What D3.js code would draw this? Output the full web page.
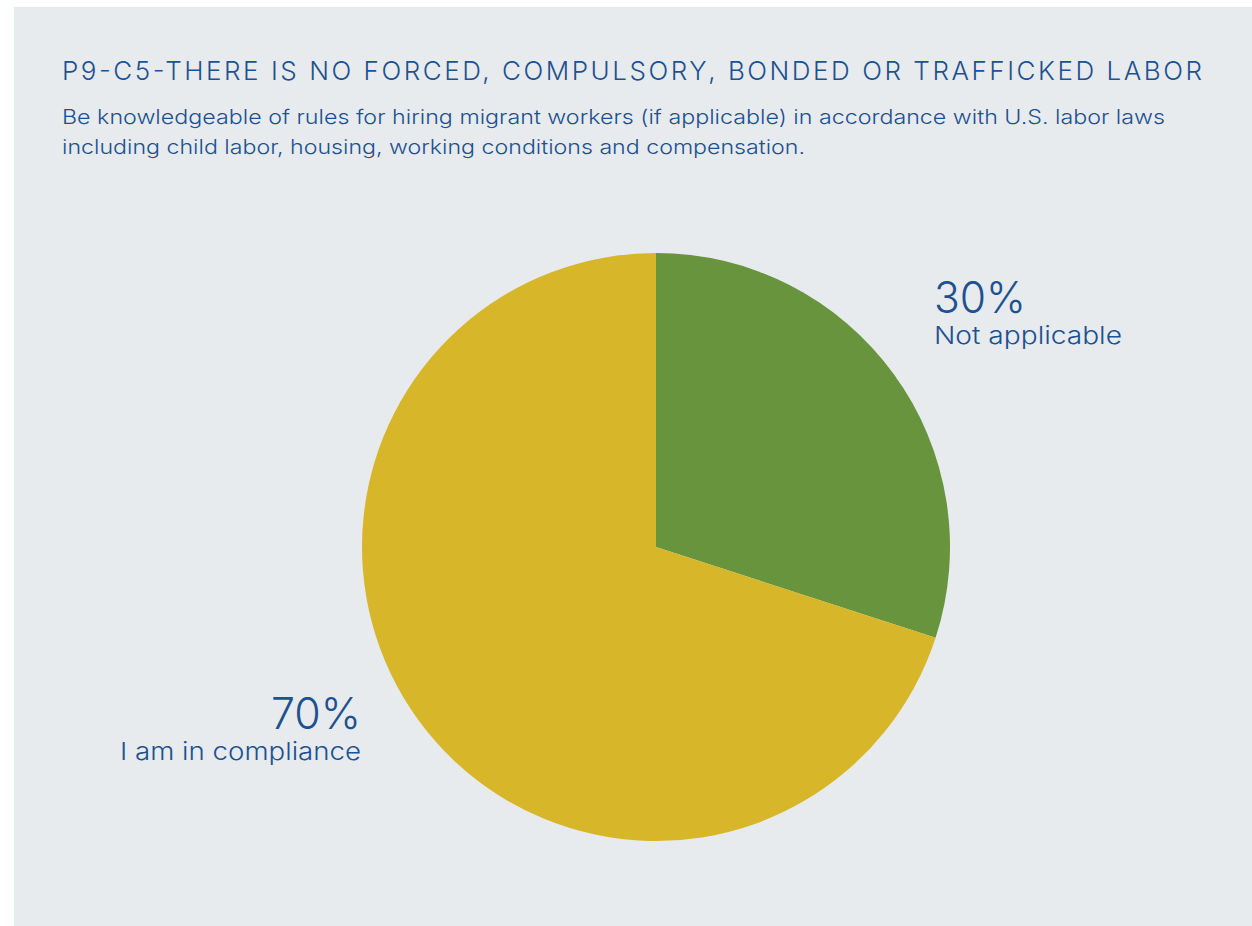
<!DOCTYPE html>
<html><head><meta charset="utf-8">
<script src="https://cdn.jsdelivr.net/npm/d3@7"></script>
<style>html,body{margin:0;padding:0;background:#fff;}</style>
</head><body>
<script>
const categories = ["Not applicable", "I am in compliance"];
const values = [30, 70];
const valueLabels = ["30%", "70%"];
const colors = ["#67943c", "#d8b62a"];
const title = "P9-C5-THERE IS NO FORCED, COMPULSORY, BONDED OR TRAFFICKED LABOR";
const subtitleLines = ["Be knowledgeable of rules for hiring migrant workers (if applicable) in accordance with U.S. labor laws",
  "including child labor, housing, working conditions and compensation."];

const W = 1252, H = 926, textColor = "#1d5190", font = "Inter, Lato, sans-serif";
const svg = d3.select("body").append("svg").attr("width", W).attr("height", H);
svg.append("rect").attr("x", 14).attr("y", 7).attr("width", W - 14).attr("height", H - 7).attr("fill", "#e7ebee");

svg.append("text").attr("x", 62).attr("y", 80).attr("fill", textColor)
  .style("font-family", font).style("font-size", "26px").style("font-weight", 300)
  .attr("textLength", 1140).attr("lengthAdjust", "spacing").text(title);
const subW = [1103, 743];
subtitleLines.forEach((l, i) => svg.append("text").attr("x", 62).attr("y", 124 + i * 30)
  .attr("fill", textColor).style("font-family", font).style("font-size", "20px").style("font-weight", 300)
  .attr("textLength", subW[i]).attr("lengthAdjust", "spacingAndGlyphs").text(l));

const cx = 656, cy = 547, r = 294;
const pie = d3.pie().sort(null).value(d => d)(values);
const arc = d3.arc().innerRadius(0).outerRadius(r);
const g = svg.append("g").attr("transform", `translate(${cx},${cy})`);
g.selectAll("path").data(pie).join("path").attr("d", arc).attr("fill", (d, i) => colors[i]);

const labelPos = [{x: 934, y: 313, anchor: "start", w1: 92, w2: 188}, {x: 361, y: 729, anchor: "end", w1: 90, w2: 241}];
labelPos.forEach((p, i) => {
  svg.append("text").attr("x", p.x).attr("y", p.y).attr("text-anchor", p.anchor).attr("fill", textColor)
    .style("font-family", font).style("font-size", "43px").style("font-weight", 300)
    .attr("textLength", p.w1).attr("lengthAdjust", "spacingAndGlyphs").text(valueLabels[i]);
  svg.append("text").attr("x", p.x).attr("y", p.y + 31).attr("text-anchor", p.anchor).attr("fill", textColor)
    .style("font-family", font).style("font-size", "24px").style("font-weight", 300)
    .attr("textLength", p.w2).attr("lengthAdjust", "spacingAndGlyphs").text(categories[i]);
});
</script>
</body></html>
